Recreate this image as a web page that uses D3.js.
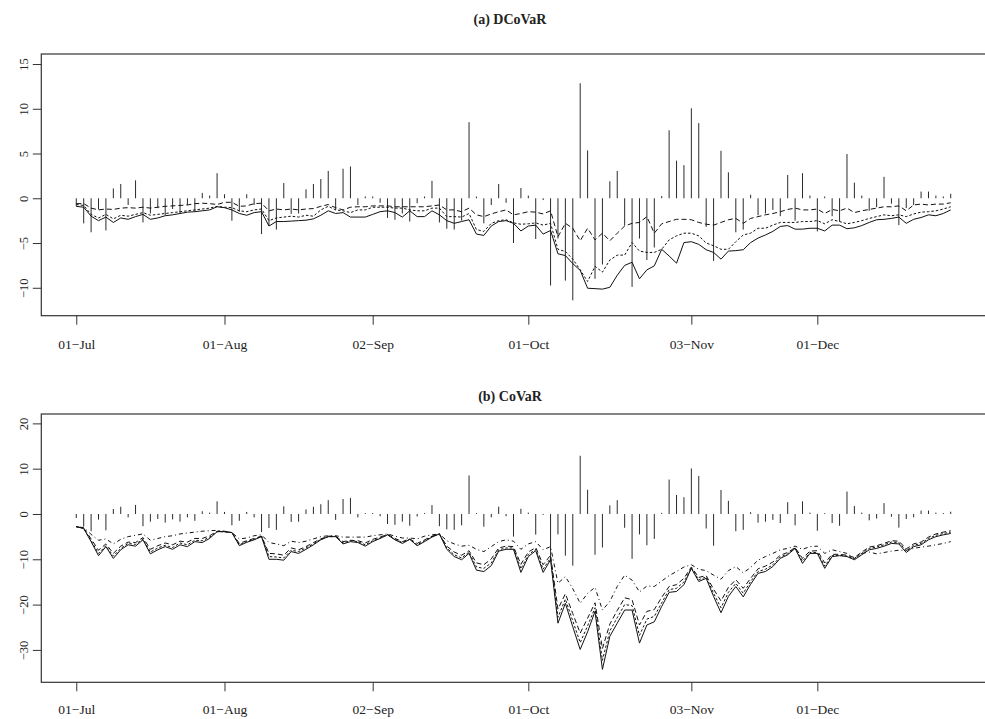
<!DOCTYPE html>
<html>
<head>
<meta charset="utf-8">
<script src="https://cdn.jsdelivr.net/npm/d3@7"></script>
<style>
    body { margin: 0; background: white; }
    svg text { font-family: "Liberation Serif", "DejaVu Serif", serif; fill: #222; }
</style>
</head>
<body>
<svg class="svgMain" width="985" height="719"></svg>
<script>
// Trading day index of each x tick and its label.
const tickIdx = [0, 20, 40, 61, 83, 100];
const tickLabels = ["01-Jul", "01-Aug", "02-Sep", "01-Oct", "03-Nov", "01-Dec"];

// Daily returns, drawn as vertical bars in both panels.
const returns = [
    -0.9, -2.8, -3.8, -1.25, -3.6, 1.1, 1.6, -0.75, 2.0, -2.7,
    -1.7, -1.1, -1.9, -1.2, -1.7, -0.75, -1.5, 0.6, 0.3, 2.8,
    0.45, -2.5, -1.5, 0.45, -0.75, -4.0, -3.1, -3.5, 1.7, -1.75,
    -1.7, 1.0, 1.6, 2.15, 3.05, -1.3, 3.3, 3.55, -0.75, 0.2,
    0.2, -0.5, -2.2, -2.4, -1.7, -2.6, -0.55, 0.2, 1.95, -2.7,
    -3.4, -3.5, -2.5, 8.5, 0.2, -2.8, -0.75, 1.6, -0.5, -5.0,
    1.15, 0.3, -4.55, -0.2, -9.75, -4.5, -9.2, -11.4, 12.85, 5.35,
    -9.0, -7.4, 1.9, 3.05, -3.05, -9.9, -4.5, -6.9, -5.5, 0.25,
    7.6, 4.2, 3.7, 10.05, 8.4, -3.2, -7.0, 5.3, 2.9, -3.8,
    -3.5, 0.4, -1.9, -1.7, -1.3, -2.0, 2.6, -2.5, 2.8, 0.3,
    -3.7, 0.2, -2.0, -2.6, 4.95, 1.75, 0.3, -1.4, -1.0, 2.4,
    -0.6, -3.0, -1.1, -0.75, 0.75, 0.75, 0.3, 0.2, 0.5
];

// Panel (a): DCoVaR series.
const dcovarSolid = [
    -0.9, -1.0, -2.0, -2.5, -2.1, -2.7, -2.2, -2.35, -2.05, -1.8,
    -2.35, -2.2, -1.95, -1.85, -1.7, -1.55, -1.5, -1.4, -1.3, -0.95,
    -1.05, -1.3, -1.7, -1.9, -1.6, -1.5, -3.1, -2.6, -2.6, -2.55,
    -2.5, -2.45, -2.3, -1.9, -1.4, -1.7, -1.6, -2.1, -2.1, -2.1,
    -1.8, -1.5, -1.4, -1.6, -2.1, -1.4, -2.05, -2.05, -1.4, -1.85,
    -2.5, -2.8, -2.6, -2.4, -4.0, -4.15, -3.1, -2.6, -2.5, -2.8,
    -3.65, -3.1, -3.0, -4.0, -3.6, -6.2, -6.4, -7.3, -8.05, -10.05,
    -10.1, -10.15, -9.95, -8.6, -7.5, -7.15, -9.0, -8.0, -7.55, -5.7,
    -6.45, -7.25, -4.95, -4.85, -5.15, -5.75, -6.05, -6.8, -5.9, -5.85,
    -5.75, -4.95, -4.45, -4.1, -3.7, -3.15, -3.05, -3.45, -3.45, -3.35,
    -3.35, -3.65, -3.0, -3.0, -3.4, -3.3, -3.05, -2.7, -2.4, -2.35,
    -2.25, -2.1, -2.8, -2.35, -2.15, -1.85, -1.95, -1.7, -1.3
];
const dcovarShort = [
    -0.7, -0.8, -1.8, -2.2, -1.8, -2.3, -1.9, -2.0, -1.8, -1.6,
    -1.9, -1.8, -1.7, -1.6, -1.5, -1.4, -1.3, -1.2, -1.1, -0.9,
    -1.0, -1.05, -1.4, -1.5, -1.3, -1.2, -2.5, -2.2, -2.1, -2.0,
    -2.1, -1.9, -2.0, -1.3, -0.9, -1.3, -1.4, -1.6, -1.3, -1.3,
    -1.0, -1.0, -1.0, -1.1, -1.1, -1.3, -1.4, -1.4, -1.1, -1.1,
    -2.05, -2.05, -2.1, -1.7, -3.5, -3.7, -2.8, -2.5, -2.4, -2.75,
    -2.9, -2.85, -2.75, -3.0, -2.8, -5.7, -5.95, -6.8, -8.0, -9.3,
    -7.6, -8.25, -6.9, -6.35, -6.35, -4.95, -5.9, -6.05, -6.05, -5.7,
    -4.65, -4.2, -3.9, -3.9, -4.2, -5.0, -5.3, -5.7, -5.7, -4.85,
    -4.1, -3.9, -3.35, -3.35, -3.0, -2.7, -2.7, -2.7, -2.6, -2.6,
    -2.5, -2.85, -2.4, -2.6, -2.85, -2.7, -2.5, -2.25, -2.05, -1.85,
    -1.95, -1.85, -2.05, -1.75, -1.55, -1.5, -1.4, -1.2, -0.95
];
const dcovarLong = [
    -0.6, -0.6, -1.1, -1.3, -1.2, -1.25, -1.1, -1.05, -1.1, -1.0,
    -1.1, -1.0, -0.9, -0.85, -0.8, -0.75, -0.6, -0.55, -0.6, -0.7,
    -0.45, -0.45, -0.9, -0.85, -0.6, -0.55, -1.4, -1.2, -1.3, -1.2,
    -1.3, -1.2, -1.15, -0.9, -0.7, -1.05, -1.3, -1.0, -0.95, -0.95,
    -0.85, -0.85, -0.85, -0.95, -0.95, -0.95, -0.95, -0.95, -0.85, -0.75,
    -1.3, -1.3, -1.5, -1.1, -1.85, -2.05, -1.75, -1.5, -1.3, -1.85,
    -1.7, -1.5, -1.55, -1.75, -1.4, -4.3, -2.8, -3.35, -4.75, -3.35,
    -4.65, -3.9, -4.75, -3.9, -3.1, -2.8, -2.7, -2.05, -3.9, -2.85,
    -2.6, -2.35, -2.35, -2.4, -2.7, -2.9, -3.0, -2.7, -2.4, -2.25,
    -2.8, -2.25, -2.05, -1.85, -1.7, -1.5, -1.25, -1.1, -1.3, -1.3,
    -1.2, -1.7, -1.25, -1.4, -1.1, -1.6, -1.4, -1.25, -1.1, -0.95,
    -0.95, -0.85, -1.4, -0.75, -0.65, -0.75, -0.65, -0.65, -0.5
];

// Panel (b): CoVaR series.
const covarSolid = [
    -2.8, -3.2, -6.1, -9.2, -7.2, -9.8, -7.9, -6.8, -7.1, -5.7,
    -8.8, -7.9, -7.2, -7.8, -6.8, -7.2, -6.1, -6.3, -5.4, -3.9,
    -3.9, -4.1, -7.0, -6.25, -5.7, -5.0, -10.0, -10.0, -10.2, -8.3,
    -8.7, -7.8, -6.8, -5.7, -5.0, -5.0, -6.6, -6.1, -6.3, -7.1,
    -6.1, -5.4, -4.6, -5.7, -6.5, -5.6, -7.0, -6.1, -5.1, -4.4,
    -7.8, -9.4, -10.1, -8.7, -12.4, -12.7, -11.4, -8.2, -7.8, -7.8,
    -12.9, -9.4, -8.1, -12.9, -10.1, -24.1, -19.7, -24.9, -29.9, -26.0,
    -21.5, -34.3, -27.0, -24.1, -21.2, -21.2, -28.5, -24.5, -23.8, -20.4,
    -17.3, -17.1, -15.6, -12.0, -14.9, -14.2, -18.2, -21.8, -18.2, -16.0,
    -18.3, -15.5, -13.1, -12.7, -11.6, -9.8, -9.0, -7.6, -10.9, -8.7,
    -8.7, -12.0, -9.4, -9.2, -9.4, -10.1, -9.0, -7.9, -7.6, -7.1,
    -6.5, -6.6, -8.5, -7.2, -6.8, -5.7, -5.0, -4.6, -4.3
];
const covarShort = [
    -2.8, -3.2, -5.9, -8.7, -7.0, -9.3, -7.6, -6.5, -6.7, -5.5,
    -8.4, -7.5, -6.9, -7.4, -6.4, -6.8, -5.8, -5.9, -5.1, -3.9,
    -3.9, -4.1, -6.8, -6.1, -5.6, -4.9, -9.4, -9.5, -9.7, -8.0,
    -8.3, -7.5, -6.6, -5.6, -5.0, -5.0, -6.4, -5.9, -6.1, -6.8,
    -5.9, -5.3, -4.6, -5.6, -6.3, -5.6, -6.8, -5.9, -5.0, -4.4,
    -7.5, -9.0, -9.7, -8.4, -11.7, -12.0, -10.8, -7.9, -7.5, -7.5,
    -12.1, -9.0, -7.8, -12.2, -9.7, -22.8, -18.8, -23.6, -28.4, -24.7,
    -20.7, -32.3, -25.8, -22.9, -20.0, -20.2, -26.8, -23.2, -22.6, -19.6,
    -16.7, -16.4, -15.0, -11.9, -14.5, -13.9, -17.5, -20.7, -17.3, -15.3,
    -17.5, -14.9, -12.7, -12.2, -11.2, -9.5, -8.8, -7.5, -10.4, -8.5,
    -8.5, -11.5, -9.2, -9.1, -9.3, -9.9, -8.7, -7.6, -7.3, -6.8,
    -6.2, -6.3, -8.1, -6.9, -6.5, -5.4, -4.7, -4.3, -4.0
];
const covarLong = [
    -2.8, -3.1, -5.5, -8.0, -6.6, -8.7, -7.1, -6.2, -6.3, -5.2,
    -7.8, -7.0, -6.4, -6.8, -6.0, -6.2, -5.4, -5.4, -4.8, -3.8,
    -3.9, -4.1, -6.5, -5.9, -5.4, -4.9, -8.7, -8.8, -9.1, -7.5,
    -7.9, -7.2, -6.3, -5.5, -4.9, -4.9, -6.1, -5.8, -5.9, -6.4,
    -5.6, -5.1, -4.5, -5.4, -6.1, -5.5, -6.5, -5.7, -4.9, -4.4,
    -7.1, -8.4, -9.1, -8.1, -10.8, -11.2, -9.9, -7.5, -7.1, -7.2,
    -11.1, -8.4, -7.4, -11.2, -9.1, -21.0, -17.6, -22.0, -26.3, -23.0,
    -19.6, -29.7, -24.3, -21.3, -18.5, -18.9, -24.5, -21.5, -21.1, -18.4,
    -16.0, -15.6, -14.2, -11.7, -14.0, -13.6, -16.6, -19.2, -16.2, -14.5,
    -16.4, -14.2, -12.1, -11.5, -10.6, -9.1, -8.5, -7.4, -9.8, -8.2,
    -8.1, -10.8, -8.9, -8.9, -9.1, -9.6, -8.4, -7.3, -7.0, -6.5,
    -5.9, -6.0, -7.7, -6.6, -6.2, -5.1, -4.4, -4.0, -3.7
];
const covarDotDash = [
    -2.8, -3.0, -4.5, -5.8, -5.5, -6.6, -5.6, -5.0, -4.7, -4.4,
    -5.8, -5.4, -5.0, -4.8, -4.4, -4.2, -4.0, -3.8, -3.7, -3.6,
    -3.8, -4.1, -5.5, -5.3, -4.8, -4.6, -6.3, -6.6, -7.0, -6.0,
    -6.3, -6.0, -5.5, -5.0, -4.8, -4.8, -5.1, -5.1, -5.1, -5.1,
    -4.8, -4.6, -4.4, -4.9, -5.3, -5.3, -5.5, -4.9, -4.6, -4.4,
    -5.9, -6.6, -7.1, -6.9, -7.8, -8.3, -7.2, -6.1, -5.7, -6.0,
    -7.8, -6.6, -6.1, -7.9, -7.2, -15.3, -13.8, -16.5, -19.7, -17.5,
    -16.2, -21.2, -19.3, -16.0, -13.5, -14.6, -17.2, -15.9, -16.0, -14.8,
    -13.6, -12.7, -11.7, -11.2, -12.2, -12.5, -13.5, -14.4, -12.5, -11.6,
    -13.0, -11.8, -10.2, -9.4, -8.7, -7.9, -7.6, -7.1, -7.8, -7.2,
    -7.1, -8.7, -7.9, -8.3, -8.7, -9.8, -8.7, -8.4, -8.8, -8.5,
    -8.2, -8.0, -8.0, -7.6, -7.3, -7.1, -6.8, -6.5, -6.1
];

// Y ticks for each panel.
const ticksA = [-10, -5, 0, 5, 10, 15];
const ticksB = [-30, -20, -10, 0, 10, 20];

const svgMain = d3.select(".svgMain");
const n = returns.length;
const pad = (n - 1) * 0.04;

// Shared x scale: trading day index, padded 4% each side like R.
const x = d3.scaleLinear().domain([-pad, n - 1 + pad]).range([41.3, 985.7]);

// Swap ASCII hyphen for the minus glyph the reference shows.
function minusText (s) { return String(s).replace("-", "\u2212"); }


// Draw one panel: box, axes, return bars and the estimate lines.
function drawPanel (opts) {
    let g = svgMain.append("g");
    let y = d3.scaleLinear().domain(opts.yDomain).range([opts.bottom, opts.top]);

    // Title above the box.
    g.append("text")
        .text(opts.title)
        .attr("x", 510).attr("y", opts.titleY)
        .attr("text-anchor", "middle")
        .attr("font-size", "14px").attr("font-weight", "bold");

    // Vertical return bars from zero.
    g.selectAll(".bar")
        .data(returns)
        .enter().append("line")
        .attr("class", "bar")
        .attr("x1", (d, i) => x(i)).attr("x2", (d, i) => x(i))
        .attr("y1", y(0)).attr("y2", d => y(d))
        .attr("stroke", "#2a2a2a").attr("stroke-width", 1);

    // Estimate lines, each with its own dash pattern.
    let line = d3.line().x((d, i) => x(i)).y(d => y(d));
    opts.series.forEach(s => {
        g.append("path")
            .attr("d", line(s.values))
            .attr("fill", "none")
            .attr("stroke", "#111")
            .attr("stroke-width", 1)
            .attr("stroke-dasharray", s.dash);
    });

    // Bottom axis with date labels.
    let xAxis = d3.axisBottom(x)
        .tickValues(tickIdx)
        .tickFormat((d, i) => minusText(tickLabels[i]))
        .tickSize(9).tickPadding(opts.labelPad);
    let gx = g.append("g")
        .attr("transform", "translate(0," + opts.bottom + ")")
        .call(xAxis);
    gx.select(".domain").remove();
    gx.selectAll("line").attr("stroke", "#333");
    gx.selectAll("text").attr("font-size", "13.5px")
        .attr("font-family", "Liberation Serif, DejaVu Serif, serif").attr("fill", "#222");

    // Left axis, labels turned like R's default.
    let yAxis = d3.axisLeft(y)
        .tickValues(opts.yTicks)
        .tickFormat(d => minusText(d))
        .tickSize(8.5);
    let gy = g.append("g")
        .attr("transform", "translate(41.3,0)")
        .call(yAxis);
    gy.select(".domain").remove();
    gy.selectAll("line").attr("stroke", "#333");
    gy.selectAll("text")
        .attr("font-size", "12.5px")
        .attr("font-family", "Liberation Serif, DejaVu Serif, serif").attr("fill", "#222")
        .attr("text-anchor", "middle")
        .attr("x", 0).attr("dy", 0)
        .attr("transform", "translate(-13.5,0) rotate(-90)");

    // Plot box.
    g.append("rect")
        .attr("x", 41.3).attr("y", opts.top)
        .attr("width", 985.7 - 41.3).attr("height", opts.bottom - opts.top)
        .attr("fill", "none").attr("stroke", "#333").attr("stroke-width", 1.2);
}


drawPanel({
    title: "(a) DCoVaR", titleY: 24,
    top: 54, bottom: 315.7, yDomain: [-13.12, 16.12], yTicks: ticksA, labelPad: 15,
    series: [
        { values: dcovarSolid, dash: null },
        { values: dcovarShort, dash: "2.5,2" },
        { values: dcovarLong, dash: "5,3" }
    ]
});

drawPanel({
    title: "(b) CoVaR", titleY: 401,
    top: 414, bottom: 682.3, yDomain: [-37.15, 22.07], yTicks: ticksB, labelPad: 13,
    series: [
        { values: covarSolid, dash: null },
        { values: covarShort, dash: "2.5,2" },
        { values: covarLong, dash: "5,3" },
        { values: covarDotDash, dash: "1,3,4,3" }
    ]
});
</script>
</body>
</html>
